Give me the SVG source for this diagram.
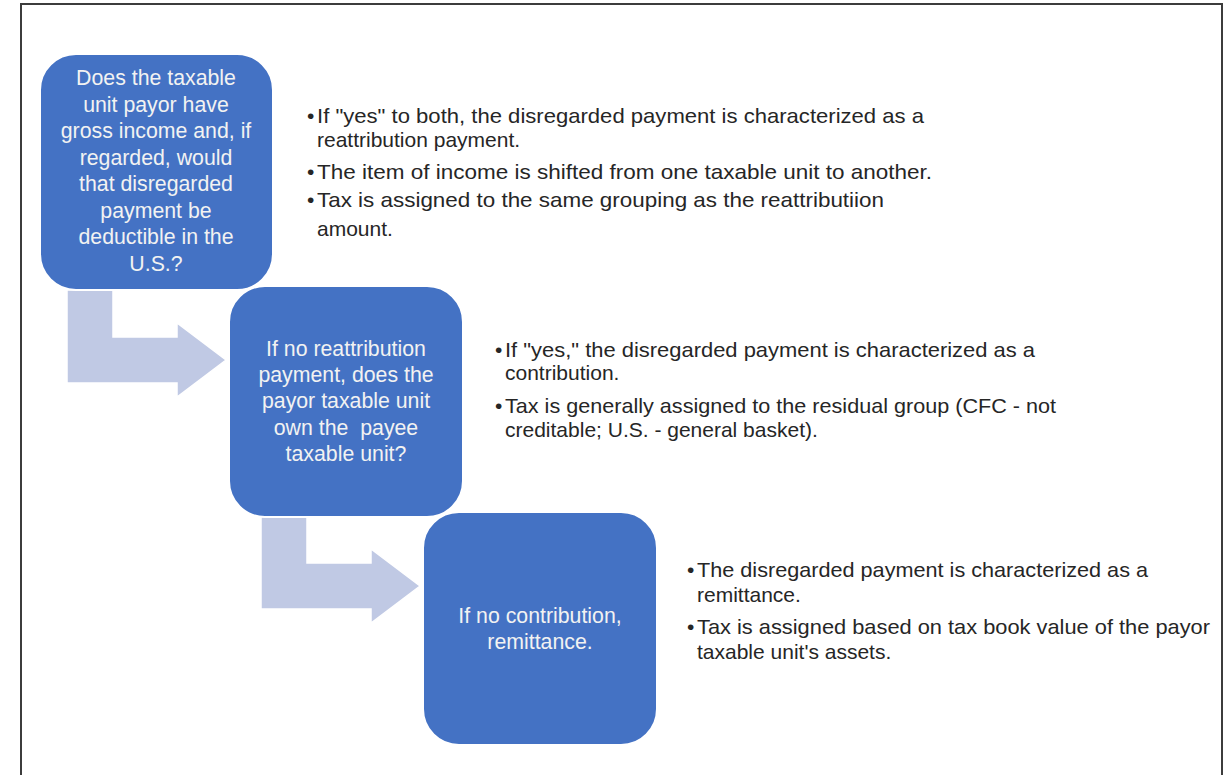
<svg xmlns="http://www.w3.org/2000/svg" width="1230" height="775" viewBox="0 0 1230 775">
<style>
.box{fill:#4472c4;stroke:#ffffff;stroke-width:2}
.arrow{fill:#c0c9e4;stroke:#ffffff;stroke-width:1.5}
.bt{font-family:"Liberation Sans",Arial,sans-serif;font-size:21.3px;fill:#f2f2f2;text-anchor:middle}
.tx{font-family:"Liberation Sans",Arial,sans-serif;font-size:21px;fill:#262626}
</style>
<rect x="0" y="0" width="1230" height="775" fill="#ffffff"/>
<rect x="21" y="4" width="1201" height="800" fill="none" stroke="#3c3c3c" stroke-width="2"/>
<g id="connectors">
<path class="arrow" d="M67,290 L113,290 L113,337 L177,337 L177,323 L226,360 L177,397 L177,383 L67,383 Z"/>
<path class="arrow" d="M261,516 L307,516 L307,563 L371,563 L371,549 L420,586 L371,623 L371,609 L261,609 Z"/>
</g>
<g id="node1">
<rect class="box" x="40" y="54" width="233" height="236" rx="36"/>
<text class="bt"><tspan x="156" y="85">Does the taxable</tspan><tspan x="156" y="112">unit payor have</tspan><tspan x="156" y="138">gross income and, if</tspan><tspan x="156" y="165">regarded, would</tspan><tspan x="156" y="191">that disregarded</tspan><tspan x="156" y="218">payment be</tspan><tspan x="156" y="244">deductible in the</tspan><tspan x="156" y="271">U.S.?</tspan></text>
</g>
<g id="node2">
<rect class="box" x="229" y="286" width="234" height="231" rx="36"/>
<text class="bt"><tspan x="346" y="356">If no reattribution</tspan><tspan x="346" y="382">payment, does the</tspan><tspan x="346" y="408">payor taxable unit</tspan><tspan x="346" y="435" xml:space="preserve">own the  payee</tspan><tspan x="346" y="461">taxable unit?</tspan></text>
</g>
<g id="node3">
<rect class="box" x="423" y="512" width="234" height="233" rx="36"/>
<text class="bt"><tspan x="540" y="623">If no contribution,</tspan><tspan x="540" y="649">remittance.</tspan></text>
</g>
<g id="notes1">
<text class="tx" x="307" y="123">•</text>
<text class="tx" x="317" y="123" textLength="607" lengthAdjust="spacingAndGlyphs">If "yes" to both, the disregarded payment is characterized as a</text>
<text class="tx" x="317" y="147">reattribution payment.</text>
<text class="tx" x="307" y="179">•</text>
<text class="tx" x="317" y="179" textLength="615" lengthAdjust="spacingAndGlyphs">The item of income is shifted from one taxable unit to another.</text>
<text class="tx" x="307" y="207">•</text>
<text class="tx" x="317" y="207" textLength="567" lengthAdjust="spacingAndGlyphs">Tax is assigned to the same grouping as the reattributiion</text>
<text class="tx" x="317" y="236">amount.</text>
</g>
<g id="notes2">
<text class="tx" x="495" y="357">•</text>
<text class="tx" x="505" y="357" textLength="530" lengthAdjust="spacingAndGlyphs">If "yes," the disregarded payment is characterized as a</text>
<text class="tx" x="505" y="380">contribution.</text>
<text class="tx" x="495" y="413">•</text>
<text class="tx" x="505" y="413" textLength="551" lengthAdjust="spacingAndGlyphs">Tax is generally assigned to the residual group (CFC - not</text>
<text class="tx" x="505" y="437">creditable; U.S. - general basket).</text>
</g>
<g id="notes3">
<text class="tx" x="687" y="577">•</text>
<text class="tx" x="697" y="577" textLength="451" lengthAdjust="spacingAndGlyphs">The disregarded payment is characterized as a</text>
<text class="tx" x="697" y="602">remittance.</text>
<text class="tx" x="687" y="634">•</text>
<text class="tx" x="697" y="634" textLength="513" lengthAdjust="spacingAndGlyphs">Tax is assigned based on tax book value of the payor</text>
<text class="tx" x="697" y="659">taxable unit's assets.</text>
</g>
</svg>
